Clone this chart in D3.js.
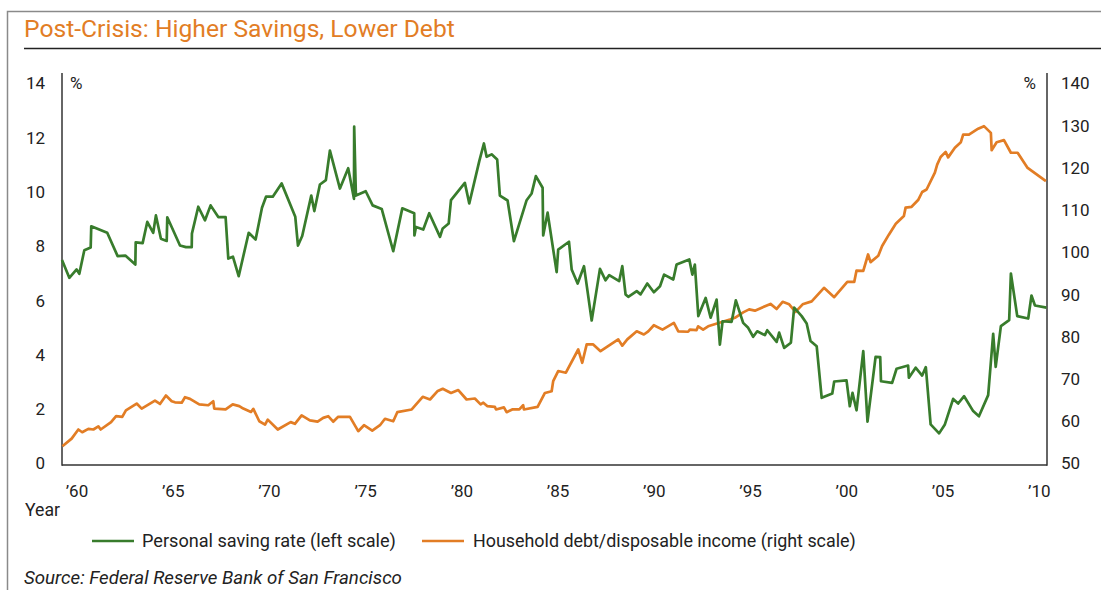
<!DOCTYPE html>
<html><head><meta charset="utf-8">
<script src="https://cdn.jsdelivr.net/npm/d3@7"></script>
<style>
html,body{margin:0;padding:0;background:#fff;}
svg{display:block;font-family:Roboto,"Open Sans",sans-serif;}
</style></head>
<body>
<svg id="chart" width="1101" height="590"></svg>
<script>
const title = "Post-Crisis: Higher Savings, Lower Debt";
const sourceText = "Source: Federal Reserve Bank of San Francisco";
const seriesNames = ["Personal saving rate (left scale)", "Household debt/disposable income (right scale)"];
const seriesColors = ["#387c2c", "#e27d25"];

const leftTicks = [0, 2, 4, 6, 8, 10, 12, 14];
const rightTicks = [50, 60, 70, 80, 90, 100, 110, 120, 130, 140];
const xTickYears = [1960, 1965, 1970, 1975, 1980, 1985, 1990, 1995, 2000, 2005, 2010];
const xTickLabels = ["\u201960","\u201965","\u201970","\u201975","\u201980","\u201985","\u201990","\u201995","\u201900","\u201905","\u201910"];

const savingYears = [1959.25,1959.63,1960.01,1960.15,1960.41,1960.74,1960.77,1961.6,1962.14,1962.54,1963.06,1963.08,1963.44,1963.68,1963.99,1964.13,1964.39,1964.69,1964.72,1965.38,1965.69,1965.99,1966.0,1966.33,1966.68,1966.97,1967.37,1967.75,1967.89,1968.13,1968.43,1968.95,1969.31,1969.64,1969.85,1970.2,1970.66,1971.37,1971.51,1971.73,1972.2,1972.36,1972.65,1972.96,1973.17,1973.69,1974.12,1974.42,1974.43,1974.52,1975.03,1975.39,1975.86,1976.46,1976.93,1977.55,1977.56,1977.64,1978.02,1978.33,1978.89,1979.03,1979.34,1979.46,1980.18,1980.41,1980.93,1981.17,1981.31,1981.57,1981.86,1982.0,1982.4,1982.73,1983.39,1983.65,1983.87,1984.22,1984.25,1984.48,1984.95,1985.03,1985.59,1985.73,1986.04,1986.37,1986.77,1987.2,1987.49,1987.68,1988.2,1988.36,1988.53,1988.67,1989.11,1989.31,1989.66,1990.0,1990.32,1990.53,1991.01,1991.18,1991.84,1992.0,1992.13,1992.31,1992.69,1992.95,1993.26,1993.43,1993.57,1994.04,1994.26,1994.64,1994.9,1995.16,1995.37,1995.77,1995.89,1996.38,1996.51,1996.77,1997.12,1997.29,1997.68,1997.94,1998.14,1998.46,1998.72,1999.27,1999.37,2000.01,2000.18,2000.32,2000.53,2000.88,2001.1,2001.52,2001.76,2001.8,2002.38,2002.61,2003.21,2003.25,2003.6,2003.94,2004.13,2004.38,2004.82,2005.12,2005.55,2005.81,2006.12,2006.59,2006.89,2007.37,2007.63,2007.76,2008.03,2008.46,2008.55,2008.88,2009.45,2009.62,2009.8,2010.4];
const savingRate = [7.5,6.84,7.15,6.99,7.86,7.96,8.74,8.5,7.64,7.66,7.33,8.15,8.12,8.9,8.5,9.14,8.28,8.2,9.07,8.03,7.97,7.97,8.47,9.46,8.96,9.51,9.08,9.08,7.55,7.62,6.9,8.5,8.25,9.42,9.83,9.83,10.32,9.09,8.03,8.38,9.87,9.3,10.28,10.44,11.53,10.13,10.88,9.75,12.41,9.87,10.03,9.51,9.38,7.82,9.4,9.22,8.4,8.71,8.62,9.22,8.35,8.66,8.84,9.7,10.34,9.58,11.14,11.79,11.3,11.39,11.2,9.87,9.69,8.19,9.7,9.95,10.59,10.16,8.4,9.24,7.05,7.88,8.17,7.15,6.63,7.27,5.27,7.17,6.75,6.94,6.72,7.27,6.23,6.14,6.35,6.23,6.63,6.31,6.53,6.96,6.78,7.33,7.52,6.96,7.33,5.43,6.1,5.37,6.04,4.38,5.24,5.22,6.01,5.18,5.0,4.67,4.87,4.73,4.91,4.48,4.82,4.26,4.45,5.74,5.43,5.16,4.51,4.32,2.42,2.58,3.02,3.06,2.11,2.6,1.96,4.14,1.54,3.93,3.92,3.03,2.97,3.49,3.61,3.16,3.53,3.24,3.55,1.44,1.11,1.44,2.38,2.21,2.48,1.93,1.74,2.52,4.78,3.56,5.06,5.28,7.0,5.43,5.34,6.19,5.82,5.74];

const debtYears = [1959.27,1959.75,1960.1,1960.3,1960.62,1960.88,1961.14,1961.26,1961.8,1962.06,1962.38,1962.57,1963.13,1963.39,1964.08,1964.34,1964.65,1964.95,1965.12,1965.47,1965.64,1965.9,1966.38,1966.85,1967.11,1967.16,1967.75,1968.12,1968.46,1968.67,1969.07,1969.19,1969.5,1969.8,1969.94,1970.46,1971.13,1971.35,1971.7,1972.13,1972.53,1972.82,1973.08,1973.34,1973.6,1974.21,1974.64,1974.94,1975.37,1975.77,1976.03,1976.46,1976.67,1977.42,1977.99,1978.37,1978.75,1979.03,1979.46,1979.84,1980.27,1980.7,1981.0,1981.14,1981.34,1981.74,1981.8,1982.21,1982.35,1982.64,1983.01,1983.21,1983.25,1983.96,1984.34,1984.69,1984.77,1985.03,1985.43,1986.07,1986.28,1986.51,1986.85,1987.23,1988.15,1988.36,1988.62,1989.11,1989.48,1989.71,1990.0,1990.45,1991.04,1991.27,1991.78,1991.87,1992.22,1992.3,1992.56,1992.82,1993.95,1994.21,1994.64,1994.95,1995.25,1996.06,1996.38,1996.69,1997.03,1997.36,1997.73,1998.2,1998.84,1999.37,2000.05,2000.41,2000.53,2000.88,2001.13,2001.26,2001.66,2001.86,2002.21,2002.57,2002.99,2003.08,2003.39,2003.73,2003.94,2004.17,2004.6,2004.72,2004.9,2005.16,2005.29,2005.64,2005.95,2006.07,2006.37,2006.85,2007.15,2007.51,2007.55,2007.81,2008.19,2008.55,2008.9,2009.42,2010.37];
const debtRatio = [54.1,55.9,58.05,57.4,58.2,58.05,58.8,58.05,59.8,61.2,61.06,62.6,64.2,63.0,64.9,64.1,66.1,64.75,64.5,64.4,65.7,65.3,64.0,63.8,64.75,63.0,62.8,64.0,63.6,63.0,62.2,62.95,60.0,59.2,60.4,58.05,59.8,59.4,61.4,60.2,59.9,60.8,61.2,59.9,61.06,61.06,57.65,59.07,57.8,59.07,60.6,60.0,62.15,62.8,65.8,65.16,67.1,67.7,66.7,67.4,65.16,65.4,64.0,64.4,63.6,63.4,62.8,63.3,62.15,62.8,62.8,63.8,62.8,63.4,66.7,67.1,69.5,71.9,71.5,77.0,73.85,78.2,78.2,76.6,79.4,77.9,79.4,81.3,80.55,81.3,82.75,81.7,83.3,81.3,81.2,81.7,81.6,82.5,81.7,82.5,84.1,84.5,85.8,86.5,86.2,87.8,86.6,88.3,87.7,85.9,87.7,88.4,91.6,89.4,93.0,93.0,95.7,95.6,99.5,97.7,99.2,101.5,104.2,106.8,108.6,110.6,110.8,112.4,114.3,114.9,118.9,120.8,122.6,123.8,122.5,124.8,126.1,127.9,127.9,129.3,129.9,128.3,124.2,126.1,126.6,123.6,123.6,120.0,116.9];

(function () {
const svg = d3.select("#chart");
const font = 'Roboto, "Open Sans", sans-serif';

function fitText(sel, target) {
  const n = sel.node();
  const w = n.getComputedTextLength();
  const fs = parseFloat(sel.attr("font-size"));
  if (w > 0) sel.attr("font-size", (fs * target / w).toFixed(2));
  return sel;
}

svg.append("path").attr("d", "M7.5,590 L7.5,11.5 L1101,11.5")
  .attr("fill", "none").attr("stroke", "#8a8a8a").attr("stroke-width", 1.5);

fitText(svg.append("text").attr("x", 24).attr("y", 37).attr("font-size", 22)
  .attr("fill", seriesColors[1]).text(title), 431);
svg.append("line").attr("x1", 24).attr("x2", 1101).attr("y1", 48.5).attr("y2", 48.5)
  .attr("stroke", "#222").attr("stroke-width", 1.5);

const pL = 62, pR = 1047, pT = 73, pB = 465;
const x = d3.scaleLinear().domain([1959.25, 2010.4]).range([pL, pR - 0.5]);
const yL = d3.scaleLinear().domain([0, 14]).range([463.5, 83.5]);
const yR = d3.scaleLinear().domain([50, 140]).range([463.5, 83.5]);

const axisColor = "#333";
const axL = svg.append("g").attr("transform", `translate(${pL},0)`)
  .call(d3.axisLeft(yL).tickValues(leftTicks).tickSize(0).tickPadding(17).tickFormat(d3.format("d")));
const axR = svg.append("g").attr("transform", `translate(${pR},0)`)
  .call(d3.axisRight(yR).tickValues(rightTicks).tickSize(0).tickPadding(14).tickFormat(d3.format("d")));
const axB = svg.append("g").attr("transform", `translate(0,${pB})`)
  .call(d3.axisBottom(x).tickValues(xTickYears).tickSize(0).tickPadding(20)
    .tickFormat((d, i) => xTickLabels[i]));
[axL, axR, axB].forEach(g => {
  g.select(".domain").remove();
  g.selectAll("text").attr("font-family", font).attr("font-size", 17).attr("fill", "#222");
});

svg.append("line").attr("x1", pL).attr("x2", pL).attr("y1", pT).attr("y2", pB + 0.75)
  .attr("stroke", axisColor).attr("stroke-width", 1.5);
svg.append("line").attr("x1", pR).attr("x2", pR).attr("y1", pT).attr("y2", pB + 0.75)
  .attr("stroke", axisColor).attr("stroke-width", 1.5);
svg.append("line").attr("x1", pL).attr("x2", pR).attr("y1", pB).attr("y2", pB)
  .attr("stroke", axisColor).attr("stroke-width", 1.5);

svg.append("text").attr("x", 70).attr("y", 89).attr("font-size", 17).attr("fill", "#222").text("%");
svg.append("text").attr("x", 1036).attr("y", 89).attr("font-size", 17).attr("fill", "#222")
  .attr("text-anchor", "end").text("%");

const lineL = d3.line().x(d => x(d[0])).y(d => yL(d[1]));
const lineR = d3.line().x(d => x(d[0])).y(d => yR(d[1]));
const debtData = debtYears.map((y, i) => [y, debtRatio[i]]);
const savingData = savingYears.map((y, i) => [y, savingRate[i]]);
svg.append("path").datum(debtData).attr("d", lineR).attr("fill", "none")
  .attr("stroke", seriesColors[1]).attr("stroke-width", 2.7).attr("stroke-linejoin", "round");
svg.append("path").datum(savingData).attr("d", lineL).attr("fill", "none")
  .attr("stroke", seriesColors[0]).attr("stroke-width", 2.7).attr("stroke-linejoin", "round");

fitText(svg.append("text").attr("x", 25).attr("y", 516).attr("font-size", 16).attr("fill", "#222").text("Year"), 35);

const legY = 541;
const legend = [
  {x1: 92, x2: 134, tx: 142, w: 254},
  {x1: 422, x2: 464, tx: 473, w: 383}
];
legend.forEach((l, i) => {
  svg.append("line").attr("x1", l.x1).attr("x2", l.x2).attr("y1", legY).attr("y2", legY)
    .attr("stroke", seriesColors[i]).attr("stroke-width", 2.7);
  fitText(svg.append("text").attr("x", l.tx).attr("y", legY + 6).attr("font-size", 16)
    .attr("fill", "#222").text(seriesNames[i]), l.w);
});

fitText(svg.append("text").attr("x", 24).attr("y", 584).attr("font-size", 16).attr("font-style", "italic")
  .attr("fill", "#222").text(sourceText), 378);
})();
</script>
</body></html>
